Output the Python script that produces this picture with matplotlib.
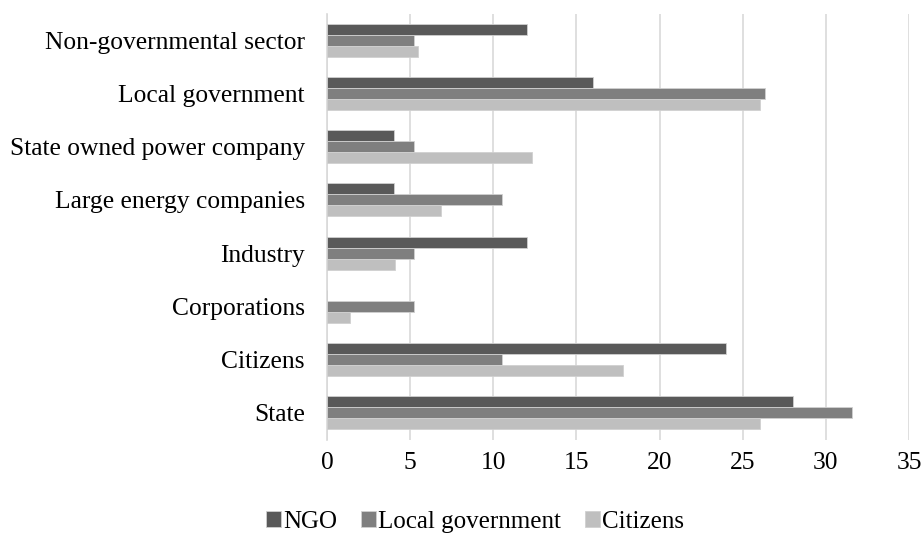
import numpy as np
import matplotlib.pyplot as plt

plt.rcParams['font.family'] = ['Liberation Serif', 'DejaVu Serif']

# categories listed bottom to top
categories = ['State', 'Citizens', 'Corporations', 'Industry',
              'Large energy companies', 'State owned power company',
              'Local government', 'Non-governmental sector']
ngo = [28, 24, 0, 12, 4, 4, 16, 12]
local_gov = [31.58, 10.53, 5.26, 5.26, 10.53, 5.26, 26.32, 5.26]
citizens = [26.03, 17.81, 1.37, 4.11, 6.85, 12.33, 26.03, 5.48]

series = [('NGO', ngo, '#595959'),
          ('Local government', local_gov, '#7f7f7f'),
          ('Citizens', citizens, '#bfbfbf')]

fig = plt.figure(figsize=(9.21, 5.34), dpi=100)
ax = fig.add_axes([327 / 921, 1 - 439.5 / 534, 582 / 921, 426 / 534])

y = np.arange(len(categories))
h = 0.2075
for i, (name, vals, col) in enumerate(series):
    ax.barh(y + (1 - i) * h, vals, height=h, color=col, label=name,
            edgecolor='#d0d0d0', linewidth=0.6, zorder=3)

ax.set_xlim(0, 35)
ax.set_ylim(-0.5, len(categories) - 0.5)
ax.set_xticks(range(0, 36, 5))
ax.set_yticks(y)
ax.set_yticklabels(categories)
ax.tick_params(axis='both', length=0, labelsize=18.4, colors='black')
ax.tick_params(axis='x', pad=9)
ax.tick_params(axis='y', pad=16)
ax.grid(axis='x', color='#d9d9d9', linewidth=1.2, zorder=0)
for s in ['top', 'right', 'bottom']:
    ax.spines[s].set_visible(False)
ax.spines['left'].set_color('#d9d9d9')
ax.spines['left'].set_linewidth(1.2)

fig.legend(loc='center', bbox_to_anchor=(475 / 921, 1 - 522 / 534), ncol=3,
           frameon=False, fontsize=18, handlelength=0.6, handleheight=0.6,
           handletextpad=0.1, columnspacing=0.95, borderpad=0)

fig.savefig('out.png', dpi=100)
